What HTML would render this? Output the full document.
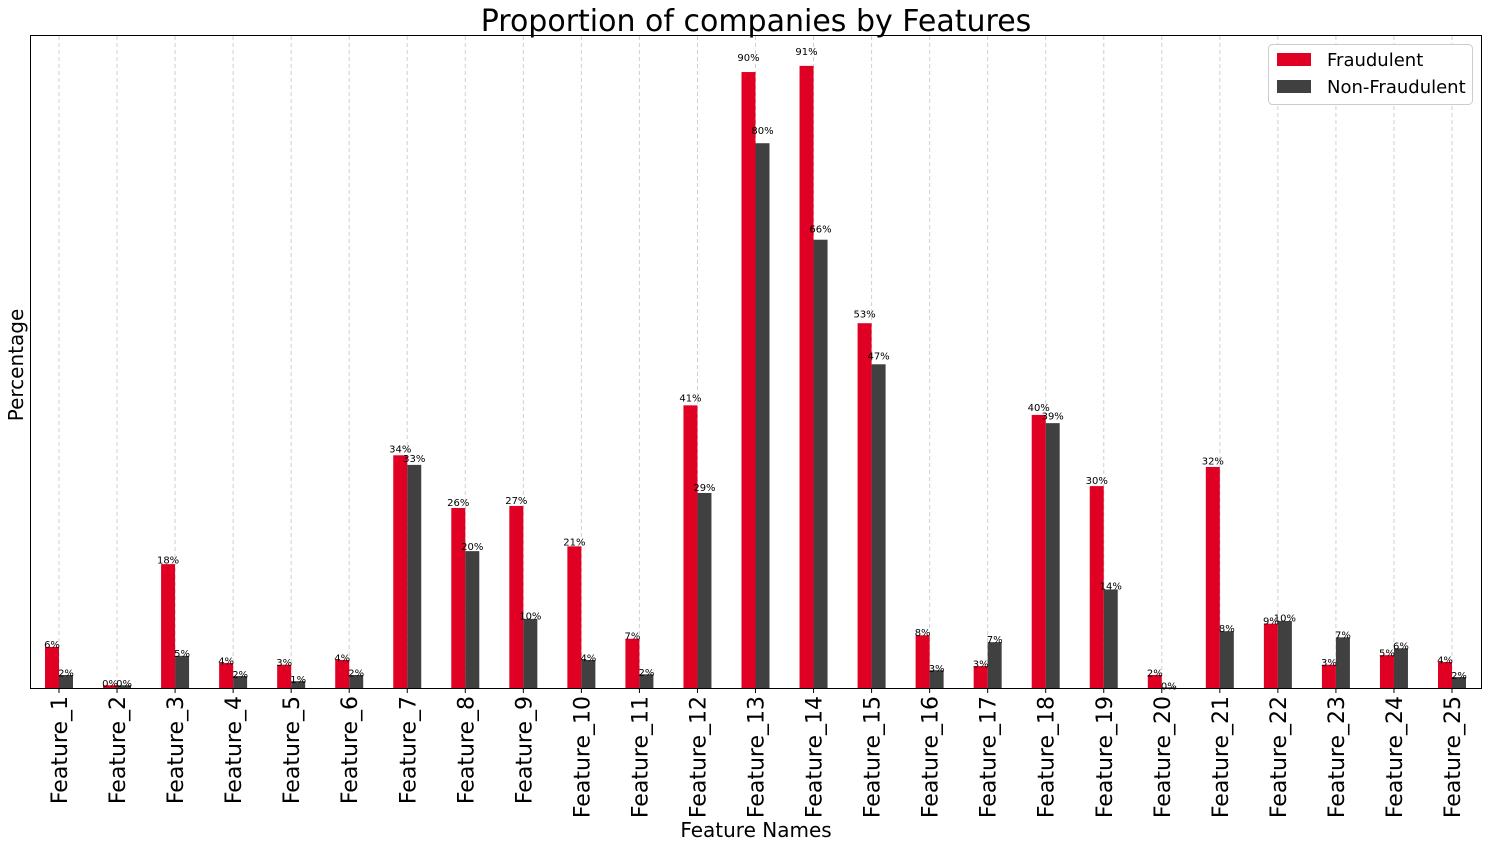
<!DOCTYPE html>
<html><head><meta charset="utf-8"><style>
html,body{margin:0;padding:0;background:#fff;}
svg text{font-family:"DejaVu Sans","Liberation Sans",sans-serif;}
</style></head><body>
<svg id="chart" width="1488" height="847" xmlns="http://www.w3.org/2000/svg">
<text x="756" y="31" font-size="30" text-anchor="middle">Proportion of companies by Features</text>
<text x="756" y="837" font-size="20" text-anchor="middle">Feature Names</text>
<text transform="translate(23,365) rotate(-90)" font-size="20" text-anchor="middle">Percentage</text>
<g id="grid"></g><g id="bars"></g><g id="labels"></g><g id="ticks"></g>
<rect x="30.5" y="35.5" width="1451" height="653" fill="none" stroke="#000" stroke-width="1"/>
<g>
<rect x="1268.5" y="44.5" width="204" height="60" rx="4" fill="#fff" stroke="#ccc"/>
<rect x="1277" y="53" width="34" height="13" fill="#e00024"/>
<text x="1327" y="66" font-size="18">Fraudulent</text>
<rect x="1277" y="80" width="34" height="13" fill="#404040"/>
<text x="1327" y="93" font-size="18">Non-Fraudulent</text>
</g>
</svg>
<script>
const categories = Array.from({length:25},(_,i)=>'Feature_'+(i+1));
const fraudulent = [6.0,0.4,18.1,3.65,3.4,4.1,34.0,26.3,26.6,20.7,7.2,41.3,90.0,90.9,53.3,7.7,3.2,39.9,29.5,1.9,32.3,9.4,3.4,4.8,3.8];
const nonFraudulent = [1.9,0.4,4.7,1.75,1.0,1.9,32.6,20.0,10.1,4.1,2.0,28.5,79.6,65.5,47.3,2.6,6.7,38.7,14.4,0.1,8.3,9.8,7.4,5.8,1.6];
const NS='http://www.w3.org/2000/svg';
const x0=59, step=(1452-59)/24, bw=14;
const xPos=i=>x0+i*step;
const yPos=v=>688-v*6.844;
function mk(tag,attrs,parent){const e=document.createElementNS(NS,tag);for(const k in attrs)e.setAttribute(k,attrs[k]);document.getElementById(parent).appendChild(e);return e;}
categories.forEach((c,i)=>{
  const cx=xPos(i);
  const g=mk('line',{x1:cx,x2:cx,y1:36,y2:688,stroke:'#d0d0d0','stroke-dasharray':'4,3','stroke-width':1},'grid');
  
  
  [[fraudulent,'#e00024',cx-bw,'fraudulent'],[nonFraudulent,'#404040',cx,'non-fraudulent']].forEach(([arr,col,bx,nm])=>{
    const v=arr[i];
    const r=mk('rect',{x:bx,y:yPos(v),width:bw,height:688-yPos(v),fill:col},'bars');
    
    
    const t=mk('text',{x:bx+bw/2,y:yPos(v*1.021)+2,'font-size':10,'text-anchor':'middle'},'labels');
    t.textContent=Math.round(v)+'%';
    
    
  });
  const tk=mk('line',{x1:cx,x2:cx,y1:688,y2:693,stroke:'#000'},'ticks');
  
  
  const tl=mk('text',{transform:`translate(${cx+8},696) rotate(-90)`,'font-size':22,'text-anchor':'end'},'ticks');
  tl.textContent=c;
  
  
});
</script>
</body></html>
